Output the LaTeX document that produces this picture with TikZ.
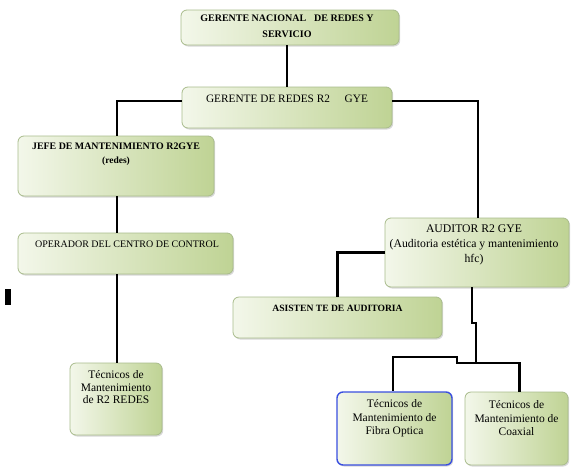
\documentclass[tikz,border=0pt]{standalone}
\usepackage{fontspec}
\setmainfont{Liberation Serif}
\usetikzlibrary{shadows}
\definecolor{boxl}{HTML}{F3F7EA}
\definecolor{boxr}{HTML}{BFD394}
\definecolor{boxedge}{HTML}{A9BC8C}
\definecolor{fibedge}{HTML}{3A4FE0}
\tikzset{
  orgbox/.style={draw=boxedge, line width=0.8pt, rounded corners=6pt,
    left color=boxl, right color=boxr, inner sep=0pt,
    drop shadow={shadow xshift=1.2pt, shadow yshift=-1.5pt, opacity=0.25, fill=black!60}},
  lbl/.style={align=center, inner sep=0pt, text=black},
  conn/.style={draw=black, line width=2.8pt, line join=miter},
}
\begin{document}
\begin{tikzpicture}[x=1pt,y=-1pt]
\useasboundingbox (0,0) rectangle (572,466);
\fill[white] (0,0) rectangle (572,466);

% boxes
\node[orgbox, minimum width=218pt, minimum height=35pt] (n1) at (290,27.5) {};
\node[orgbox, minimum width=210pt, minimum height=41pt] (n2) at (287,107.5) {};
\node[orgbox, minimum width=196pt, minimum height=60pt] (n3) at (116,166) {};
\node[orgbox, minimum width=215pt, minimum height=41pt] (n4) at (125.5,253.5) {};
\node[orgbox, minimum width=92pt, minimum height=72pt] (t1) at (116,399) {};
\node[orgbox, minimum width=184pt, minimum height=69pt] (aud) at (477,252.5) {};
\node[orgbox, minimum width=209pt, minimum height=41pt] (as) at (337.5,317.5) {};
\node[orgbox, draw=fibedge, line width=1.4pt, minimum width=115pt, minimum height=73pt] (fib) at (394.5,428.5) {};
\node[orgbox, minimum width=103pt, minimum height=73pt] (coax) at (516.5,428.5) {};

% texts
\node[lbl, font=\bfseries\fontsize{10}{16}\selectfont] (n1t) at (287,26) {GERENTE NACIONAL\hspace{0.8em}DE REDES Y\\SERVICIO};
\node[lbl, font=\fontsize{11.3}{13}\selectfont] (n2t) at (287,98.5) {GERENTE DE REDES R2\hspace{1.3em}GYE};
\node[lbl, font=\bfseries\fontsize{9.9}{15}\selectfont] (n3t) at (116,146) {JEFE DE MANTENIMIENTO R2GYE};
\node[lbl, font=\bfseries\fontsize{9.5}{10}\selectfont] (n3s) at (116,161) {(redes)};
\node[lbl, font=\fontsize{10}{12}\selectfont] (n4t) at (127,244) {OPERADOR DEL CENTRO DE CONTROL};
\node[lbl, font=\fontsize{11.5}{12.5}\selectfont] (t1t) at (116,387.5) {Técnicos de\\Mantenimiento\\de R2 REDES};
\node[lbl, font=\fontsize{11.7}{15}\selectfont] (audt) at (474,245) {AUDITOR R2 GYE\\(Auditoria estética y mantenimiento\\hfc)};
\node[lbl, font=\bfseries\fontsize{9.6}{11}\selectfont] (ast) at (337.5,308.5) {ASISTEN TE DE AUDITORIA};
\node[lbl, font=\fontsize{11.5}{13.5}\selectfont] (fibt) at (394.5,418.5) {Técnicos de\\Mantenimiento de\\Fibra Optica};
\node[lbl, font=\fontsize{11.5}{13.5}\selectfont] (coaxt) at (516.5,418.5) {Técnicos de\\Mantenimiento de\\Coaxial};

% stray mark
\fill[black] (5,289) rectangle (11,305);

% junction coordinates
\coordinate (j1) at (472,323);
\coordinate (j2) at (476,323);
\coordinate (j3) at (476,363);
\coordinate (j4) at (457,363);
\coordinate (j5) at (457,357);

% connectors
\draw[conn] (n2.north) -- (n2.north |- n1.south);
\draw[conn] ([yshift=6.5pt]n2.west) -| ([xshift=1pt]n3.north);
\draw[conn] ([yshift=6.5pt]n2.east) -| ([xshift=1pt]aud.north);
\draw[conn] ([xshift=1pt]n3.south) -- ([xshift=1pt]n3.south |- n4.north);
\draw[conn] ([xshift=1pt]n4.south -| t1.north) -- ([xshift=1pt]t1.north);
\draw[conn] (aud.west) -| (as.north);
\draw[conn] (aud.south -| j1) -- (j1) -- (j2) -- (j3);
\draw[conn] (j3) -- (j4) -- (j5) -| ([xshift=-1.5pt]fib.north);
\draw[conn] (j3) -| ([xshift=3pt]coax.north);
\end{tikzpicture}
\end{document}
